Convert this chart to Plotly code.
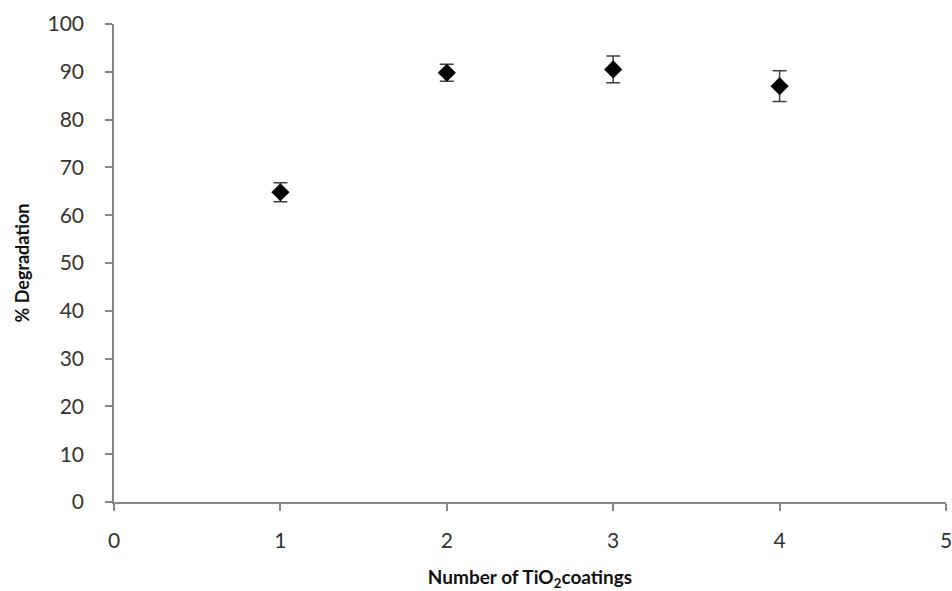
import plotly.graph_objects as go

# Degradation vs. number of TiO2 coatings
coatings = [1, 2, 3, 4]
degradation = [64.8, 89.8, 90.5, 87.0]
error = [2.0, 1.8, 2.8, 3.2]

x_ticks = [0, 1, 2, 3, 4, 5]
y_ticks = [0, 10, 20, 30, 40, 50, 60, 70, 80, 90, 100]

fig = go.Figure(go.Scatter(
    x=coatings, y=degradation, mode="markers",
    marker=dict(symbol="diamond", size=14, color="black"),
    error_y=dict(type="data", array=error, visible=True,
                 color="#404040", thickness=1.5, width=7),
    showlegend=False,
))

axis_common = dict(
    showgrid=False, zeroline=False, showline=True, linecolor="#868686",
    linewidth=1.5, ticks="outside", ticklen=7, tickcolor="#868686",
    tickwidth=1.5, ticklabeloverflow="allow", automargin=False,
    tickfont=dict(family="Lato", size=21, color="#333"),
)

fig.update_xaxes(range=[0, 5], tickvals=x_ticks, ticklabelstandoff=12,
                 **axis_common,
                 title=dict(text="<b>Number of TiO<sub>2</sub>coatings</b>",
                            font=dict(family="Lato", size=19, color="#111"),
                            standoff=24))
fig.update_yaxes(range=[0, 100], tickvals=y_ticks, ticklabelstandoff=17,
                 **axis_common,
                 title=dict(text="<b>% Degradation</b>",
                            font=dict(family="Lato", size=18, color="#111"),
                            standoff=13))

fig.update_layout(
    width=952, height=591,
    margin=dict(l=114, r=6, t=24, b=89),
    plot_bgcolor="white", paper_bgcolor="white",
)

fig.write_html("out.html")
